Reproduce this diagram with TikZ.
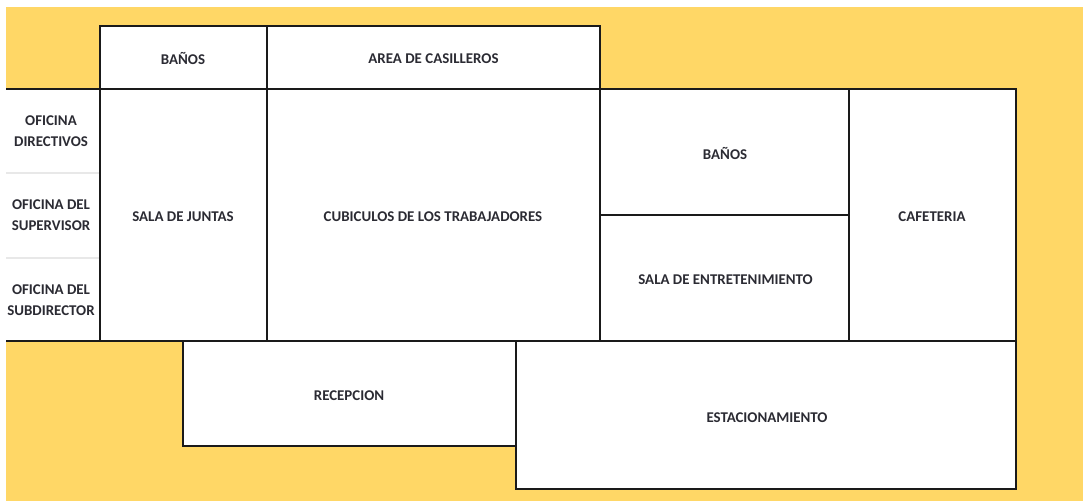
\documentclass[tikz,border=0pt]{standalone}
\usepackage{fontspec}
\setmainfont{Carlito}
\definecolor{bgyellow}{HTML}{FFD766}
\definecolor{ink}{HTML}{1A1A1A}
\definecolor{labelink}{HTML}{2B2B33}
\definecolor{sepgrey}{HTML}{E8E8E8}
\tikzset{
  room/.style={draw=ink,fill=white,line width=2.5pt},
  lab/.style={text=labelink,inner sep=0pt,align=center,yshift=-1pt,font=\fontsize{14.9}{21}\selectfont\bfseries},
  wall/.style={draw=ink,line width=2.5pt},
  sep/.style={draw=sepgrey,line width=1.6pt}
}
\begin{document}
\begin{tikzpicture}[x=1pt,y=-1pt]
\useasboundingbox (0,0) rectangle (1083,501);
\fill[white] (0,0) rectangle (1083,501);
\fill[bgyellow] (6,7) rectangle (1083,501);
% office strip
\fill[white] (6,89) rectangle (100,341);
\coordinate (sepAl) at (6,173); \coordinate (sepAr) at (100,173);
\coordinate (sepBl) at (6,258); \coordinate (sepBr) at (100,258);
\draw[sep] (sepAl) -- (sepAr);
\draw[sep] (sepBl) -- (sepBr);
% rooms
\draw[room] (100,26) rectangle (267,89);
\draw[room] (267,26) rectangle (600,89);
\draw[room] (100,89) rectangle (267,341);
\draw[room] (267,89) rectangle (600,341);
\draw[room] (600,89) rectangle (849,215);
\draw[room] (600,215) rectangle (849,341);
\draw[room] (849,89) rectangle (1016,341);
\draw[room] (183,341) rectangle (516,446);
\draw[room] (516,341) rectangle (1016,489);
% long walls closing the office strip
\coordinate (wallAl) at (6,89); \coordinate (wallAr) at (100,89);
\coordinate (wallBl) at (6,341); \coordinate (wallBr) at (100,341);
\draw[wall] (wallAl) -- (wallAr);
\draw[wall] (wallBl) -- (wallBr);
% labels
\node[lab] (banosA) at (183,57) {BAÑOS};
\node[lab] (casilleros) at (433.5,57.5) {AREA DE CASILLEROS};
\node[lab] (ofiA) at (51,130.5) {OFICINA\\DIRECTIVOS};
\node[lab] (ofiB) at (51,214.5) {OFICINA DEL\\SUPERVISOR};
\node[lab] (ofiC) at (51,299.5) {OFICINA DEL\\SUBDIRECTOR};
\node[lab] (juntas) at (183,216) {SALA DE JUNTAS};
\node[lab] (cubiculos) at (433,216) {CUBICULOS DE LOS TRABAJADORES};
\node[lab] (banosB) at (725,152.5) {BAÑOS};
\node[lab] (entret) at (725.5,279) {SALA DE ENTRETENIMIENTO};
\node[lab] (cafeteria) at (932,216) {CAFETERIA};
\node[lab] (recepcion) at (349,395) {RECEPCION};
\node[lab] (estac) at (767,417) {ESTACIONAMIENTO};
\end{tikzpicture}
\end{document}
